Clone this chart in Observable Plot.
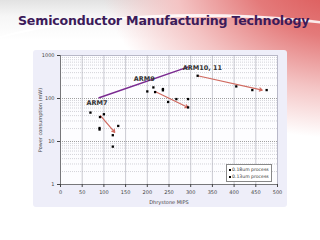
<!DOCTYPE html>
<html><head><meta charset="utf-8">
<script src="https://cdn.jsdelivr.net/npm/d3@7"></script>
<script src="https://cdn.jsdelivr.net/npm/@observablehq/plot@0.6"></script>
<style>
html,body{margin:0;padding:0;width:320px;height:240px;overflow:hidden;}
body{position:relative;font-family:"DejaVu Sans",sans-serif;
background:
 radial-gradient(ellipse 280px 190px at 108% -12%, #d84a4a 0%, #e47a7a 35%, #f4c4c4 62%, rgba(255,255,255,0) 88%),
 linear-gradient(180deg,#e2e2e2 0px,#f6f6f6 16px,#ffffff 40px);}
#swoosh{position:absolute;left:-60px;top:14px;width:520px;height:120px;border-radius:50%;border-top:3px solid rgba(255,255,255,0.85);}
#title{position:absolute;left:18px;top:13px;font-family:"DejaVu Sans",sans-serif;font-weight:bold;font-size:12.6px;color:#3c1b5a;white-space:nowrap;letter-spacing:-0.2px;}
#panel{position:absolute;left:33px;top:50px;width:254px;height:157px;background:#eeeef9;border-radius:3px;}
#chart{position:absolute;left:33px;top:50px;}
#legend{position:absolute;left:226px;top:164px;width:46px;height:18px;border:1px solid #888;background:#fff;font-size:4.6px;color:#333;line-height:7px;padding:1px 0 0 2px;box-sizing:border-box;white-space:nowrap;overflow:hidden;}
#legend span.m{display:inline-block;width:2px;height:2px;background:#000;margin-right:1px;vertical-align:middle;}
</style></head>
<body>
<div id="swoosh"></div>
<div id="title">Semiconductor Manufacturing Technology</div>
<div id="panel"></div>
<div id="chart"></div>
<div id="legend"></div>
<script>
// data
const mips  = [69, 91, 100, 90, 90, 120.5, 133, 120.5, 200, 214, 218, 236, 236, 248, 267, 294, 294, 316, 405, 442, 475];
const power = [47, 37, 43, 20.6, 19, 14, 23, 7.6, 146, 181, 141, 166, 155, 83, 97, 97, 62, 338, 191, 157, 157];
const arrowX1 = [92, 218, 316];
const arrowY1 = [40, 146, 338];
const arrowX2 = [125, 294, 465];
const arrowY2 = [16.3, 62, 157];
const trendX = [89, 293];
const trendY = [104, 537];
const labelText = ["ARM7", "ARM9", "ARM10, 11"];
const labelX = [84, 193, 327];
const labelY = [77, 292, 525];
const xTicks = [0, 50, 100, 150, 200, 250, 300, 350, 400, 450, 500];
const yTicks = [1, 10, 100, 1000];
const legendLabels = ["0.18um process", "0.13um process"];

const points = mips.map((m, i) => ({x: m, y: power[i]}));
const arrows = arrowX1.map((v, i) => ({x1: v, y1: arrowY1[i], x2: arrowX2[i], y2: arrowY2[i]}));
const trend = trendX.map((v, i) => ({x: v, y: trendY[i]}));
const labels = labelText.map((t, i) => ({t, x: labelX[i], y: labelY[i]}));
const minor = [];
for (const d of [1, 10, 100]) for (let k = 2; k <= 9; k++) minor.push(d * k);

const chart = Plot.plot({
  width: 254, height: 157,
  marginLeft: 27, marginRight: 10, marginTop: 5, marginBottom: 23,
  style: {fontFamily: "DejaVu Sans, sans-serif", fontSize: "5px", color: "#444", background: "transparent"},
  x: {domain: [0, 500]},
  y: {type: "log", domain: [1, 1000]},
  marks: [
    Plot.frame({fill: "#fdfdff", stroke: "#b8b8c8"}),
    Plot.ruleY(minor, {stroke: "#b8b8c0", strokeDasharray: "1,1", strokeWidth: 0.6}),
    Plot.ruleY([10, 100], {stroke: "#888", strokeDasharray: "1,1", strokeWidth: 0.8}),
    Plot.ruleX(xTicks.slice(1, -1), {stroke: "#a8a8b4", strokeWidth: 0.6}),
    Plot.ruleX([0], {stroke: "#666", strokeWidth: 0.8}),
    Plot.ruleY([1], {stroke: "#666", strokeWidth: 0.8}),
    Plot.axisX({ticks: xTicks, tickSize: 3, tickPadding: 3, label: "Dhrystone MIPS", labelAnchor: "center", labelArrow: "none", labelOffset: 19, fontSize: 5}),
    Plot.axisY({ticks: yTicks, tickFormat: d => String(d), tickSize: 3, tickPadding: 3, label: "Power consumption (mW)", labelAnchor: "center", labelArrow: "none", labelOffset: 22, fontSize: 5}),
    Plot.line(trend, {x: "x", y: "y", stroke: "#7a2a90", strokeWidth: 1.5}),
    Plot.arrow(arrows, {x1: "x1", y1: "y1", x2: "x2", y2: "y2", stroke: "#d06a60", strokeWidth: 1.2, headLength: 4, bend: 0}),
    Plot.dot(points, {x: "x", y: "y", symbol: "square", r: 1.3, fill: "#000"}),
    Plot.text(labels, {x: "x", y: "y", text: "t", fontSize: 6.5, fontWeight: "bold", fill: "#333"})
  ]
});
document.getElementById("chart").appendChild(chart);
document.getElementById("legend").innerHTML = legendLabels.map(l => `<div><span class="m"></span>${l}</div>`).join("");
</script>
</body></html>
